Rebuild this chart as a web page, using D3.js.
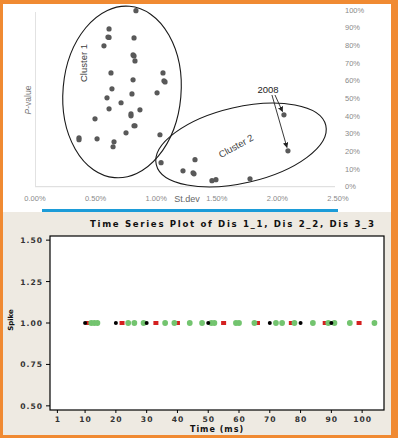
<!DOCTYPE html>
<html><head><meta charset="utf-8">
<script src="https://cdn.jsdelivr.net/npm/d3@7"></script>
<style>body{margin:0;padding:0;overflow:hidden;background:#fff}svg{display:block}</style>
</head><body>
<script>
// ---------- Top chart data (St.dev %, P-value %) ----------
const stdev = [0.833,0.611,0.602,0.611,0.817,0.569,0.809,0.817,0.825,1.056,0.627,1.064,1.073,0.809,0.635,1.007,0.800,0.594,0.710,0.611,0.866,0.792,0.792,0.495,0.817,0.825,0.751,1.031,0.363,0.363,0.512,0.652,0.644,1.040,1.221,1.304,1.312,1.320,1.460,1.493,1.774,2.054,2.087];
const pvalue = [99.6,89.3,84.7,84.5,84.2,79.7,74.6,74.0,71.2,64.4,64.4,59.9,59.3,60.5,55.4,53.1,52.5,50.3,47.5,44.1,43.5,41.2,40.1,38.4,34.5,34.5,30.5,29.4,27.7,26.6,27.1,25.4,22.6,13.6,9.0,7.9,7.3,15.3,3.4,4.0,4.5,40.7,20.3];
const xTicksTop = [0,0.5,1.0,1.5,2.0,2.5];
const yTicksTop = [0,10,20,30,40,50,60,70,80,90,100];
const highlightIdx = [41,42]; // the two 2008 points

// ---------- Bottom chart data (spike times in ms) ----------
const dis1 = [10,20,30,50,70,80,90];
const dis2 = [11,22,33,40,55,66,77,88,99];
const dis3 = [12,13,14,24,26,29,36,39,44,48,51,52,59,60,65,72,74,78,84,89,91,96,104];
const xTicksBot = [1,10,20,30,40,50,60,70,80,90,100];
const yTicksBot = [0.50,0.75,1.00,1.25,1.50];

const W=398,H=438;
const svg=d3.select("body").append("svg").attr("width",W).attr("height",H);

// frame + backgrounds
svg.append("rect").attr("x",0).attr("y",0).attr("width",W).attr("height",H).attr("fill","#f08a32");
svg.append("rect").attr("x",3).attr("y",4).attr("width",388).attr("height",208).attr("fill","#fff");
svg.append("rect").attr("x",3).attr("y",212).attr("width",388).attr("height",223).attr("fill","#eeeae2");
svg.append("rect").attr("x",42).attr("y",209).attr("width",296).attr("height",3).attr("fill","#1c9cd8");

// ================= TOP CHART =================
const xS=d3.scaleLinear().domain([0,2.5]).range([35,338]);
const yS=d3.scaleLinear().domain([0,100]).range([186.7,10]);
const gTop=svg.append("g");
const gray="#8a8a8a";
gTop.append("line").attr("x1",xS(0)).attr("x2",xS(2.5)-3).attr("y1",yS(0)).attr("y2",yS(0)).attr("stroke","#d9d9d9");
gTop.append("line").attr("x1",xS(0)+0.5).attr("x2",xS(0)+0.5).attr("y1",yS(0)).attr("y2",yS(100)+2).attr("stroke","#e2e2e2");
gTop.selectAll("text.xt").data(xTicksTop).join("text").attr("class","xt")
  .attr("x",d=>xS(d)).attr("y",201).attr("text-anchor","middle")
  .attr("font-family","Liberation Sans, Arial, sans-serif").attr("font-size",7.5).attr("fill",gray)
  .text(d=>d.toFixed(2)+"%");
gTop.selectAll("text.yt").data(yTicksTop).join("text").attr("class","yt")
  .attr("x",345).attr("y",d=>yS(d)+2.6).attr("text-anchor","start")
  .attr("font-family","Liberation Sans, Arial, sans-serif").attr("font-size",7.5).attr("fill",gray)
  .text(d=>d+"%");
gTop.append("text").attr("x",187).attr("y",202).attr("text-anchor","middle")
  .attr("font-family","Liberation Sans, Arial, sans-serif").attr("font-size",9).attr("fill","#666").text("St.dev");
gTop.append("text").attr("transform","translate(31,100) rotate(-90)").attr("text-anchor","middle")
  .attr("font-family","Liberation Sans, Arial, sans-serif").attr("font-size",8.5).attr("fill","#777")
  .html('<tspan font-style="italic">P</tspan>-value');

// ellipses (centers in data units)
const ellipses=[{cx:0.718,cy:53.6,rx:59,ry:86,rot:5},{cx:1.70,cy:23.6,rx:87,ry:38,rot:-13}];
gTop.selectAll("ellipse").data(ellipses).join("ellipse")
  .attr("transform",d=>`translate(${xS(d.cx)},${yS(d.cy)}) rotate(${d.rot})`)
  .attr("rx",d=>d.rx).attr("ry",d=>d.ry).attr("fill","none").attr("stroke","#1a1a1a").attr("stroke-width",1.1);

gTop.selectAll("circle").data(stdev.map((s,i)=>[s,pvalue[i]])).join("circle")
  .attr("cx",d=>xS(d[0])).attr("cy",d=>yS(d[1])).attr("r",2.6).attr("fill","#595959");

gTop.append("text").attr("transform",`translate(${xS(0.404)},${yS(70)}) rotate(-90)`).attr("text-anchor","middle").attr("dy","0.35em")
  .attr("font-family","Liberation Sans, Arial, sans-serif").attr("font-size",9.5).attr("fill","#404040").text("Cluster 1");
gTop.append("text").attr("transform",`translate(${xS(1.658)},${yS(23)}) rotate(-29)`).attr("text-anchor","middle").attr("dy","0.35em")
  .attr("font-family","Liberation Sans, Arial, sans-serif").attr("font-size",9.5).attr("fill","#404040").text("Cluster 2");
gTop.append("text").attr("x",xS(1.922)).attr("y",yS(54.7)).attr("dy","0.35em").attr("text-anchor","middle")
  .attr("font-family","Liberation Sans, Arial, sans-serif").attr("font-size",9.5).attr("fill","#222").text("2008");

// arrows
const defs=svg.append("defs");
defs.append("marker").attr("id","ah").attr("viewBox","0 0 10 10").attr("refX",9).attr("refY",5)
  .attr("markerWidth",6).attr("markerHeight",6).attr("orient","auto")
  .append("path").attr("d","M0,0L10,5L0,10z").attr("fill","#222");
const arrowStarts=[[1.98,51.9],[1.955,51.9]];
highlightIdx.forEach((k,i)=>{
  const x0=xS(arrowStarts[i][0]),y0=yS(arrowStarts[i][1]);
  const x1=xS(stdev[k]),y1=yS(pvalue[k]);
  const L=Math.hypot(x1-x0,y1-y0),f=(L-3.5)/L;
  gTop.append("line").attr("x1",x0).attr("y1",y0).attr("x2",x0+(x1-x0)*f).attr("y2",y0+(y1-y0)*f)
    .attr("stroke","#222").attr("stroke-width",0.9).attr("marker-end","url(#ah)");
});

// ================= BOTTOM CHART =================
const xT=d3.scaleLinear().domain([-1.4,107.1]).range([50,384]);
const yT=d3.scaleLinear().domain([0.475,1.525]).range([410,236]);
const gBot=svg.append("g");
const font2="DejaVu Sans, Verdana, sans-serif";
gBot.append("text").attr("x",232).attr("y",227).attr("text-anchor","middle")
  .attr("font-family",font2).attr("font-weight","bold").attr("font-size",8.6).attr("fill","#111")
  .attr("textLength",284).attr("lengthAdjust","spacing")
  .text("Time Series Plot of Dis 1_1, Dis 2_2, Dis 3_3");
gBot.append("rect").attr("x",50).attr("y",236).attr("width",334).attr("height",174).attr("fill","#fff").attr("stroke","#000").attr("stroke-width",1.2);

gBot.selectAll("line.yt").data(yTicksBot).join("line").attr("class","yt")
  .attr("x1",46).attr("x2",50).attr("y1",d=>yT(d)).attr("y2",d=>yT(d)).attr("stroke","#000");
gBot.selectAll("text.yt").data(yTicksBot).join("text").attr("class","yt")
  .attr("x",43).attr("y",d=>yT(d)+3).attr("text-anchor","end")
  .attr("font-family",font2).attr("font-weight","bold").attr("font-size",7.6).attr("fill","#333").attr("letter-spacing",1)
  .text(d=>d.toFixed(2));
gBot.selectAll("line.xt").data(xTicksBot).join("line").attr("class","xt")
  .attr("x1",d=>xT(d)).attr("x2",d=>xT(d)).attr("y1",410).attr("y2",413).attr("stroke","#000");
gBot.selectAll("text.xt").data(xTicksBot).join("text").attr("class","xt")
  .attr("x",d=>xT(d)+0.5).attr("y",422).attr("text-anchor","middle")
  .attr("font-family",font2).attr("font-weight","bold").attr("font-size",7.6).attr("fill","#333").attr("letter-spacing",1)
  .text(d=>d);
gBot.append("text").attr("x",217).attr("y",432).attr("text-anchor","middle")
  .attr("font-family",font2).attr("font-weight","bold").attr("font-size",8).attr("fill","#111").attr("letter-spacing",1)
  .text("Time (ms)");
gBot.append("text").attr("transform","translate(13,320) rotate(-90)").attr("text-anchor","middle")
  .attr("font-family",font2).attr("font-weight","bold").attr("font-size",7).attr("fill","#111")
  .text("Spike");

gBot.selectAll("rect.d2").data(dis2).join("rect").attr("class","d2")
  .attr("x",d=>xT(d)-2.5).attr("y",yT(1)-2).attr("width",5).attr("height",4).attr("fill","#d42020");
gBot.selectAll("path.d3").data(dis3).join("path").attr("class","d3")
  .attr("transform",d=>`translate(${xT(d)},${yT(1)})`)
  .attr("d",d3.symbol(d3.symbolCircle,26)).attr("fill","#73c46f");
gBot.selectAll("circle.d1").data(dis1).join("circle").attr("class","d1")
  .attr("cx",d=>xT(d)).attr("cy",yT(1)).attr("r",2).attr("fill","#000");
</script>
</body></html>
